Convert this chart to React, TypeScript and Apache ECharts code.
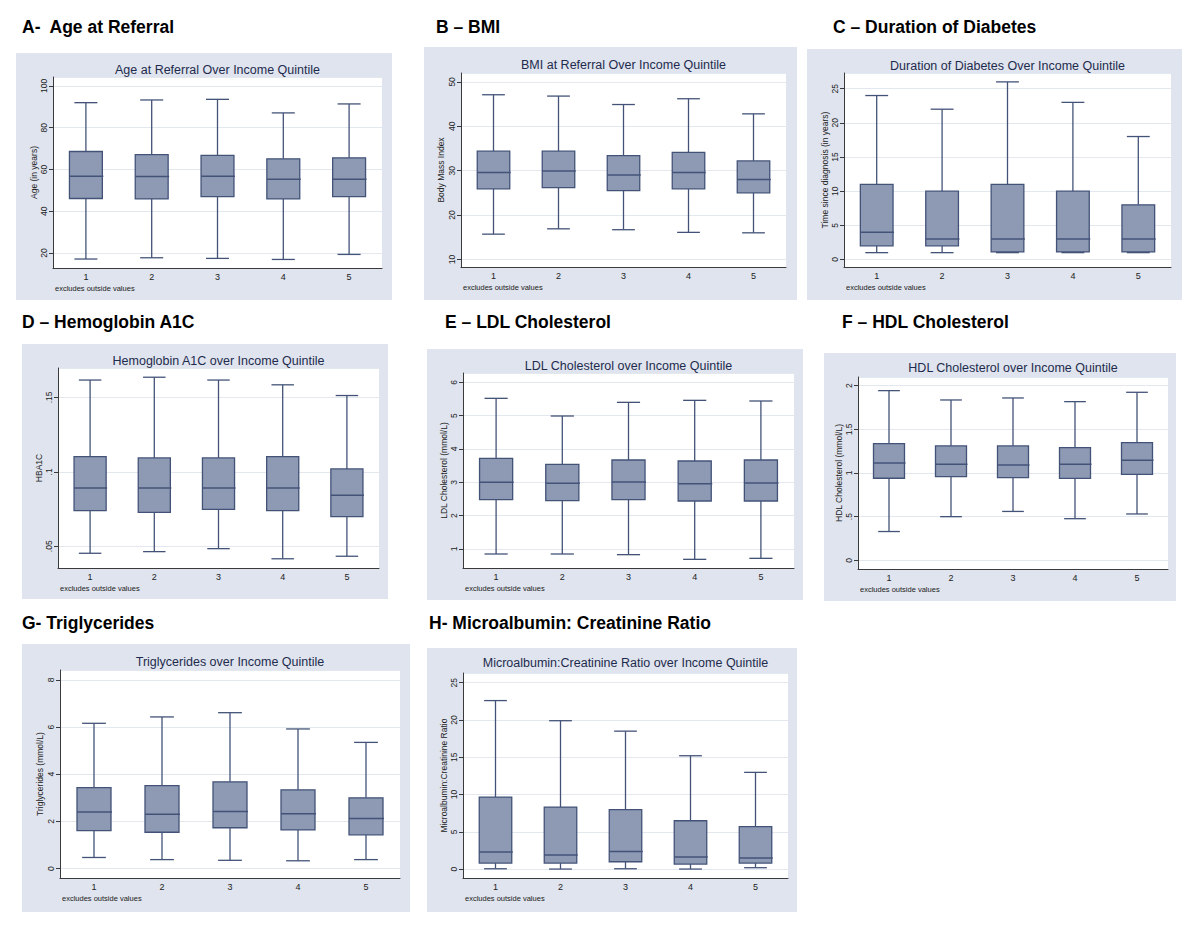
import React, { useEffect, useRef } from "react";
import * as echarts from "echarts";

// Income quintile categories
const quintiles = ["1", "2", "3", "4", "5"];

// Each row: [lower whisker, Q1, median, Q3, upper whisker]
const ageStats = [
  [17.1, 46.1, 56.8, 68.6, 92.0],
  [17.7, 45.9, 56.6, 67.1, 93.3],
  [17.4, 47.0, 56.8, 66.8, 93.6],
  [16.9, 45.9, 55.3, 65.1, 87.1],
  [19.3, 47.0, 55.3, 65.6, 91.4],
];
const bmiStats = [
  [15.7, 25.9, 29.6, 34.4, 47.1],
  [16.9, 26.2, 29.9, 34.4, 46.8],
  [16.7, 25.5, 29.0, 33.4, 44.9],
  [16.1, 25.9, 29.6, 34.1, 46.2],
  [16.0, 25.0, 28.0, 32.2, 42.8],
];
const durationStats = [
  [1, 2, 4, 11, 24],
  [1, 2, 3, 10, 22],
  [1, 1.1, 3, 11, 26],
  [1, 1.1, 3, 10, 23],
  [1, 1.1, 3, 8, 18],
];
const hba1cStats = [
  [0.0453, 0.0739, 0.0892, 0.1103, 0.1617],
  [0.0464, 0.0728, 0.0892, 0.1094, 0.1636],
  [0.0484, 0.0748, 0.0892, 0.1094, 0.1617],
  [0.0416, 0.0739, 0.0892, 0.1103, 0.1585],
  [0.0433, 0.0699, 0.0843, 0.102, 0.1513],
];
const ldlStats = [
  [0.85, 2.48, 3.0, 3.72, 5.52],
  [0.85, 2.45, 2.97, 3.54, 4.99],
  [0.83, 2.48, 3.01, 3.67, 5.4],
  [0.69, 2.44, 2.96, 3.64, 5.46],
  [0.72, 2.44, 2.98, 3.67, 5.44],
];
const hdlStats = [
  [0.33, 0.94, 1.115, 1.336, 1.943],
  [0.5, 0.958, 1.1, 1.31, 1.836],
  [0.56, 0.947, 1.092, 1.31, 1.859],
  [0.477, 0.939, 1.1, 1.29, 1.817],
  [0.531, 0.985, 1.145, 1.347, 1.924],
];
const trigStats = [
  [0.47, 1.61, 2.4, 3.43, 6.16],
  [0.38, 1.54, 2.3, 3.52, 6.43],
  [0.35, 1.73, 2.42, 3.68, 6.61],
  [0.33, 1.64, 2.32, 3.34, 5.92],
  [0.38, 1.43, 2.12, 3.0, 5.35],
];
const mcrStats = [
  [0.04, 0.8, 2.28, 9.66, 22.6],
  [0.0, 0.8, 1.88, 8.32, 19.9],
  [0.04, 0.98, 2.37, 7.96, 18.5],
  [0.0, 0.67, 1.61, 6.48, 15.2],
  [0.18, 0.8, 1.48, 5.68, 12.97],
];

const headings = [
  "A-  Age at Referral",
  "B – BMI",
  "C – Duration of Diabetes",
  "D – Hemoglobin A1C",
  "E – LDL Cholesterol",
  "F – HDL Cholesterol",
  "G- Triglycerides",
  "H- Microalbumin: Creatinine Ratio",
];
const subtitles = [
  "Age at Referral Over Income Quintile",
  "BMI at Referral Over Income Quintile",
  "Duration of Diabetes Over Income Quintile",
  "Hemoglobin A1C over Income Quintile",
  "LDL Cholesterol over Income Quintile",
  "HDL Cholesterol over Income Quintile",
  "Triglycerides over Income Quintile",
  "Microalbumin:Creatinine Ratio over Income Quintile",
];
const yNames = [
  "Age (in years)",
  "Body Mass Index",
  "Time since diagnosis (in years)",
  "HBA1C",
  "LDL Cholesterol (mmol/L)",
  "HDL Cholesterol (mmol/L)",
  "Triglycerides (mmol/L)",
  "Microalbumin:Creatinine Ratio",
];
const noteText = "excludes outside values";

// axis ranges [min, max, splitNumber]
const yRanges = [
  [12.8, 104.3, 5],
  [8.3, 52, 5],
  [-1.1, 27.3, 5],
  [0.0354, 0.1698, 3],
  [0.43, 6.28, 5],
  [-0.099, 2.099, 5],
  [-0.4, 8.42, 5],
  [-1.2, 26.3, 5],
];

// layout: bg [x,y,w,h], plot [x,y,w,h], titleY, heading [x,y], nameGap
const layouts = [
  { bg: [16, 53, 376, 247], plot: [53, 77, 329, 191], titleY: 70, head: [22, 27], gap: 15 },
  { bg: [424, 47, 373, 253], plot: [461, 73, 325, 194], titleY: 65, head: [436, 27], gap: 16 },
  { bg: [807, 49, 375, 251], plot: [844, 73, 327, 194], titleY: 66, head: [833, 27], gap: 9 },
  { bg: [22, 344, 366, 255], plot: [58, 368, 321, 200], titleY: 361, head: [22, 322], gap: 14 },
  { bg: [427, 349, 376, 251], plot: [463, 373, 331, 195], titleY: 366, head: [445, 322], gap: 15 },
  { bg: [824, 353, 352, 248], plot: [858, 377, 310, 192], titleY: 368, head: [842, 322], gap: 14 },
  { bg: [22, 644, 388, 268], plot: [60, 670, 340, 208], titleY: 662, head: [22, 623], gap: 16 },
  { bg: [427, 648, 370, 264], plot: [463, 673, 325, 205], titleY: 663, head: [429, 623], gap: 15 },
];

const allStats = [ageStats, bmiStats, durationStats, hba1cStats, ldlStats, hdlStats, trigStats, mcrStats];

const FONT = '"Liberation Sans", Arial, Helvetica, sans-serif';
const BG = "#dfe4ee";
const BOX = "#8e9ab4";
const LINE = "#435378";
const GRIDLINE = "#e3e7ee";
const AXIS = "#3a3a3a";
const TITLE = "#1e2b4d";

const fmt = (v: number) => {
  const s = String(+(+v).toFixed(4));
  return s.replace(/^0\./, ".").replace(/^-0\./, "-.");
};

function buildOption() {
  const grids: any[] = [];
  const xAxes: any[] = [];
  const yAxes: any[] = [];
  const series: any[] = [];
  const graphics: any[] = [];

  layouts.forEach((L, k) => {
    const [px, py, pw, ph] = L.plot;
    grids.push({ left: px, top: py, width: pw, height: ph, containLabel: false });
    xAxes.push({
      type: "category",
      gridIndex: k,
      data: quintiles,
      boundaryGap: true,
      axisLine: { show: true, onZero: false, lineStyle: { color: AXIS, width: 1 } },
      axisTick: { show: false },
      axisLabel: { fontSize: 9, color: "#222", margin: 4, fontFamily: FONT },
      splitLine: { show: false },
    });
    const [mn, mx, sn] = yRanges[k];
    yAxes.push({
      type: "value",
      gridIndex: k,
      min: mn,
      max: mx,
      splitNumber: sn,
      name: yNames[k],
      nameLocation: "middle",
      nameGap: L.gap,
      nameTextStyle: { fontSize: 8.5, color: "#222", fontFamily: FONT },
      axisLine: { show: true, onZero: false, lineStyle: { color: AXIS, width: 1 } },
      axisTick: { show: true, length: 4, lineStyle: { color: AXIS } },
      axisLabel: {
        rotate: 90,
        fontSize: 8.5,
        color: "#222",
        margin: 5,
        fontFamily: FONT,
        showMinLabel: false,
        showMaxLabel: false,
        formatter: fmt,
      },
      splitLine: { show: true, lineStyle: { color: GRIDLINE, width: 1 } },
    });
    series.push({
      type: "custom",
      xAxisIndex: k,
      yAxisIndex: k,
      data: allStats[k].map((r, i) => [i, ...r]),
      encode: { x: 0, y: [1, 2, 3, 4, 5] },
      renderItem: (params: any, api: any) => {
        const i = api.value(0);
        const c = (v: number) => api.coord([i, v]);
        const lo = c(api.value(1));
        const q1 = c(api.value(2));
        const md = c(api.value(3));
        const q3 = c(api.value(4));
        const hi = c(api.value(5));
        const band = api.size([1, 0])[0];
        const cx = lo[0];
        const bw = band * 0.5;
        const cw = band * 0.35;
        const st = { stroke: LINE, lineWidth: 1.3 };
        return {
          type: "group",
          children: [
            { type: "line", shape: { x1: cx, y1: hi[1], x2: cx, y2: q3[1] }, style: st },
            { type: "line", shape: { x1: cx, y1: q1[1], x2: cx, y2: lo[1] }, style: st },
            { type: "line", shape: { x1: cx - cw / 2, y1: hi[1], x2: cx + cw / 2, y2: hi[1] }, style: st },
            { type: "line", shape: { x1: cx - cw / 2, y1: lo[1], x2: cx + cw / 2, y2: lo[1] }, style: st },
            {
              type: "rect",
              shape: { x: cx - bw / 2, y: q3[1], width: bw, height: q1[1] - q3[1] },
              style: { fill: BOX, stroke: LINE, lineWidth: 1.3 },
            },
            {
              type: "line",
              shape: { x1: cx - bw / 2, y1: md[1], x2: cx + bw / 2 + 1, y2: md[1] },
              style: { stroke: LINE, lineWidth: 1.5 },
            },
          ],
        };
      },
    });

    const [bx, by, bw, bh] = L.bg;
    graphics.push({ type: "rect", z: -100, shape: { x: bx, y: by, width: bw, height: bh }, style: { fill: BG } });
    graphics.push({ type: "rect", z: -90, shape: { x: px, y: py, width: pw, height: ph }, style: { fill: "#ffffff" } });
    graphics.push({
      type: "text",
      x: L.head[0],
      y: L.head[1],
      style: {
        text: headings[k],
        fontSize: 17.5,
        fontWeight: "bold",
        fontFamily: FONT,
        fill: "#000",
        textAlign: "left",
        textVerticalAlign: "middle",
      },
    });
    graphics.push({
      type: "text",
      x: px + pw / 2,
      y: L.titleY,
      style: {
        text: subtitles[k],
        fontSize: 12.5,
        fontFamily: FONT,
        fill: TITLE,
        textAlign: "center",
        textVerticalAlign: "middle",
      },
    });
    graphics.push({
      type: "text",
      x: px + 2,
      y: py + ph + 20,
      style: {
        text: noteText,
        fontSize: 7.5,
        fontFamily: FONT,
        fill: "#222",
        textAlign: "left",
        textVerticalAlign: "middle",
      },
    });
  });

  return {
    animation: false,
    backgroundColor: "#ffffff",
    textStyle: { fontFamily: FONT },
    grid: grids,
    xAxis: xAxes,
    yAxis: yAxes,
    series,
    graphic: { elements: graphics },
  };
}

export default function App() {
  const ref = useRef<HTMLDivElement>(null);
  useEffect(() => {
    if (!ref.current) return;
    const chart = echarts.init(ref.current, undefined, { renderer: "svg" });
    chart.setOption(buildOption());
    return () => chart.dispose();
  }, []);
  return (
    <div
      ref={ref}
      style={{ position: "absolute", left: 0, top: 0, width: 1200, height: 945, background: "#fff" }}
    />
  );
}
